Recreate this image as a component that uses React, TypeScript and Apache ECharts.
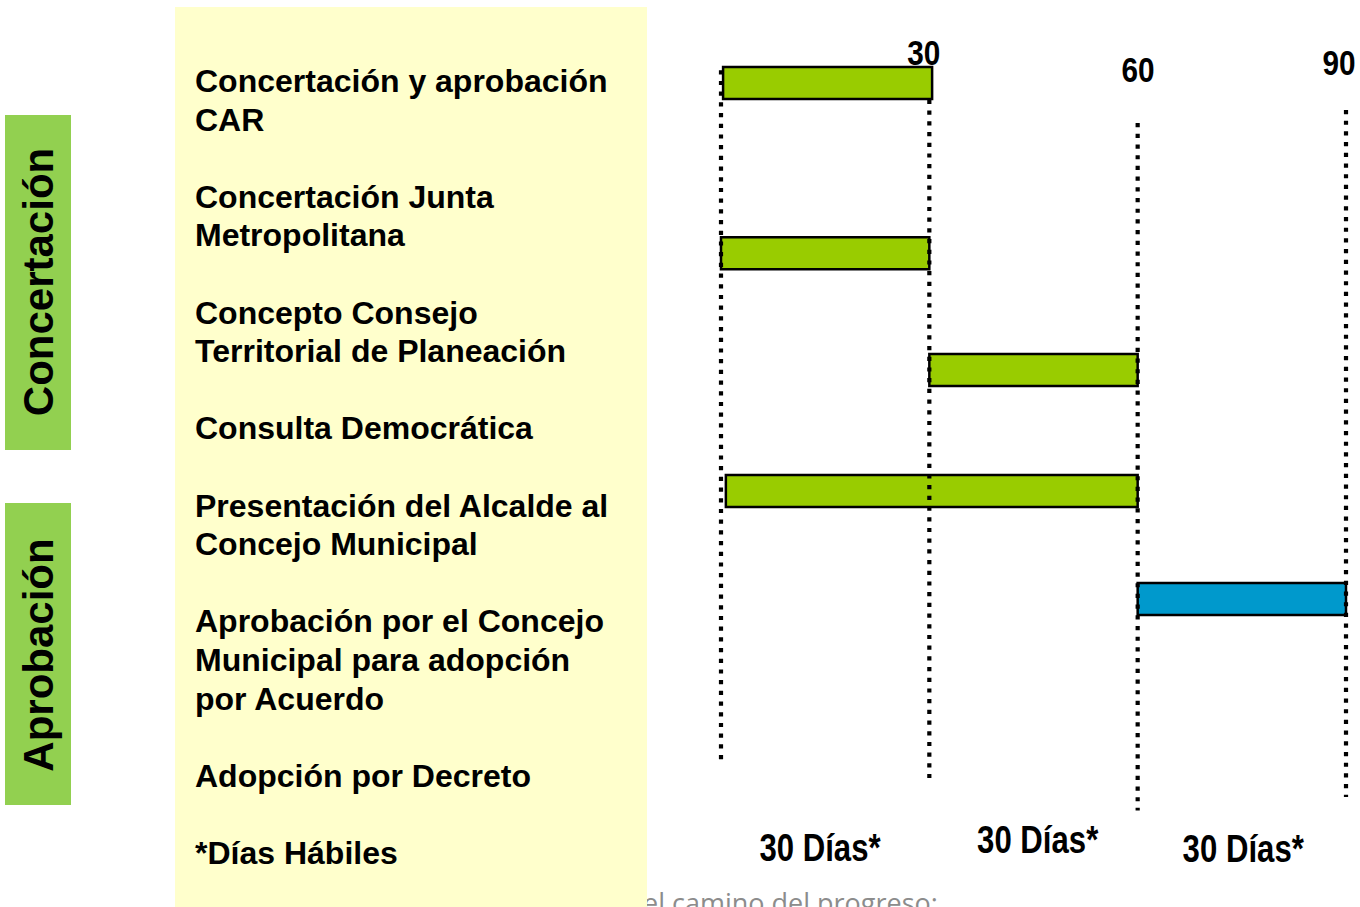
import React, { useEffect, useRef } from "react";
import * as echarts from "echarts";

// ---- data ----
const taskNames = [
  "Concertación y aprobación CAR",
  "Concertación Junta Metropolitana",
  "Concepto Consejo Territorial de Planeación",
  "Presentación del Alcalde al Concejo Municipal",
  "Aprobación por el Concejo Municipal para adopción por Acuerdo",
];
const taskStart = [0.3, 0, 30, 0.7, 60]; // días
const taskEnd = [30.4, 30, 60, 60, 90]; // días
const taskRow = [0.05, 4.46, 7.49, 10.62, 13.42]; // posición vertical (en renglones de texto)
const taskPhase = ["Concertación", "Concertación", "Concertación", "Concertación", "Aprobación"];

const rowLabels = [
  "Concertación y aprobación\nCAR",
  "Concertación Junta\nMetropolitana",
  "Concepto Consejo\nTerritorial de Planeación",
  "Consulta Democrática",
  "Presentación del Alcalde al\nConcejo Municipal",
  "Aprobación por el Concejo\nMunicipal para adopción\npor Acuerdo",
  "Adopción por Decreto",
  "*Días Hábiles",
];
const rowLabelLine = [0, 3, 6, 9, 11, 14, 18, 20];

const guideDays = [0, 30, 60, 90];
const guideFrom = [-0.28, 0.49, 1.09, 0.75];
const guideTo = [17.6, 18.06, 18.9, 18.55];

const tickLabels = ["30", "60", "90"];
const tickDays = [29.2, 60.05, 89.0];
const tickRow = [-0.725, -0.285, -0.47];

const spanLabels = ["30 Días*", "30 Días*", "30 Días*"];
const spanDays = [14.26, 45.6, 75.2];
const spanRow = [19.87, 19.66, 19.9];

const phases = ["Concertación", "Aprobación"];
const phaseColors: Record<string, string> = { "Concertación": "#99CC00", "Aprobación": "#0099CC" };

const footerText = "el camino del progreso:";

const SANS = "'Liberation Sans', Arial, Helvetica, sans-serif";

export default function App() {
  const ref = useRef<HTMLDivElement>(null);

  useEffect(() => {
    document.body.style.margin = "0";
    const chart = echarts.init(ref.current!, null, { renderer: "svg" });

    const barData = taskNames.map((n, i) => ({
      name: n,
      value: [taskStart[i], taskEnd[i], taskRow[i]],
    }));

    const option: any = {
      animation: false,
      backgroundColor: "#ffffff",
      grid: { left: 721, right: 14, top: 81, bottom: 54 },
      xAxis: { type: "value", min: 0, max: 90, show: false },
      yAxis: { type: "value", min: 0, max: 20, inverse: true, show: false },
      graphic: [
        {
          type: "text",
          z: 0,
          x: 643,
          y: 902,
          style: {
            text: footerText,
            fill: "#8c8c8c",
            font: "27px 'Open Sans', 'Noto Sans', sans-serif",
            align: "left",
            verticalAlign: "middle",
          },
        },
        {
          type: "rect",
          z: 1,
          shape: { x: 175, y: 7, width: 472, height: 900 },
          style: { fill: "#FFFFCC" },
        },
        {
          type: "rect",
          z: 1,
          shape: { x: 5, y: 115, width: 66, height: 335 },
          style: { fill: "#92D050" },
        },
        {
          type: "rect",
          z: 1,
          shape: { x: 5, y: 503, width: 66, height: 302 },
          style: { fill: "#92D050" },
        },
        {
          type: "text",
          z: 2,
          x: 38,
          y: 282,
          rotation: Math.PI / 2,
          style: {
            text: phases[0],
            fill: "#000",
            font: `bold 42px ${SANS}`,
            align: "center",
            verticalAlign: "middle",
          },
        },
        {
          type: "text",
          z: 2,
          x: 38,
          y: 655,
          rotation: Math.PI / 2,
          style: {
            text: phases[1],
            fill: "#000",
            font: `bold 42px ${SANS}`,
            align: "center",
            verticalAlign: "middle",
          },
        },
      ],
      series: [
        {
          type: "custom",
          name: "Etiquetas",
          z: 5,
          clip: false,
          silent: true,
          data: rowLabels.map((t, i) => ({ name: t, value: [0, rowLabelLine[i]] })),
          renderItem: (params: any, api: any) => {
            const p = api.coord([0, api.value(1)]);
            const lh = api.size([0, 1])[1];
            return {
              type: "text",
              x: 195,
              y: p[1] - lh / 2,
              style: {
                text: rowLabels[params.dataIndex],
                fill: "#000",
                font: `bold 32px ${SANS}`,
                lineHeight: lh,
                align: "left",
                verticalAlign: "top",
              },
            };
          },
        },
        {
          type: "custom",
          name: "Tareas",
          z: 6,
          clip: false,
          data: barData,
          renderItem: (params: any, api: any) => {
            const s = api.coord([api.value(0), api.value(2)]);
            const e = api.coord([api.value(1), api.value(2)]);
            const h = 32;
            const phase = taskPhase[params.dataIndex];
            return {
              type: "rect",
              shape: { x: s[0], y: s[1] - h / 2, width: e[0] - s[0], height: h },
              style: { fill: phaseColors[phase], stroke: "#000", lineWidth: 2.5 },
            };
          },
        },
        {
          type: "custom",
          name: "Guías",
          z: 7,
          clip: false,
          silent: true,
          data: guideDays.map((d, i) => [d, guideFrom[i], guideTo[i]]),
          renderItem: (params: any, api: any) => {
            const a = api.coord([api.value(0), api.value(1)]);
            const b = api.coord([api.value(0), api.value(2)]);
            return {
              type: "line",
              shape: { x1: a[0], y1: a[1], x2: b[0], y2: b[1] },
              style: { stroke: "#000", lineWidth: 4.2, lineDash: [4.2, 6.5], lineCap: "butt" },
            };
          },
        },
        {
          type: "custom",
          name: "Marcas",
          z: 8,
          clip: false,
          silent: true,
          data: tickLabels.map((t, i) => ({ name: t, value: [tickDays[i], tickRow[i]] })),
          renderItem: (params: any, api: any) => {
            const p = api.coord([api.value(0), api.value(1)]);
            return {
              type: "text",
              x: p[0],
              y: p[1],
              scaleX: 0.85,
              style: {
                text: tickLabels[params.dataIndex],
                fill: "#000",
                font: `bold 35px ${SANS}`,
                align: "center",
                verticalAlign: "middle",
              },
            };
          },
        },
        {
          type: "custom",
          name: "Periodos",
          z: 8,
          clip: false,
          silent: true,
          data: spanLabels.map((t, i) => ({ name: t, value: [spanDays[i], spanRow[i]] })),
          renderItem: (params: any, api: any) => {
            const p = api.coord([api.value(0), api.value(1)]);
            return {
              type: "text",
              x: p[0],
              y: p[1],
              scaleX: 0.82,
              style: {
                text: spanLabels[params.dataIndex],
                fill: "#000",
                font: `bold 38px ${SANS}`,
                align: "center",
                verticalAlign: "middle",
              },
            };
          },
        },
      ],
    };

    chart.setOption(option);
    return () => chart.dispose();
  }, []);

  return (
    <div
      ref={ref}
      style={{ position: "absolute", left: 0, top: 0, width: 1360, height: 907, overflow: "hidden" }}
    />
  );
}
